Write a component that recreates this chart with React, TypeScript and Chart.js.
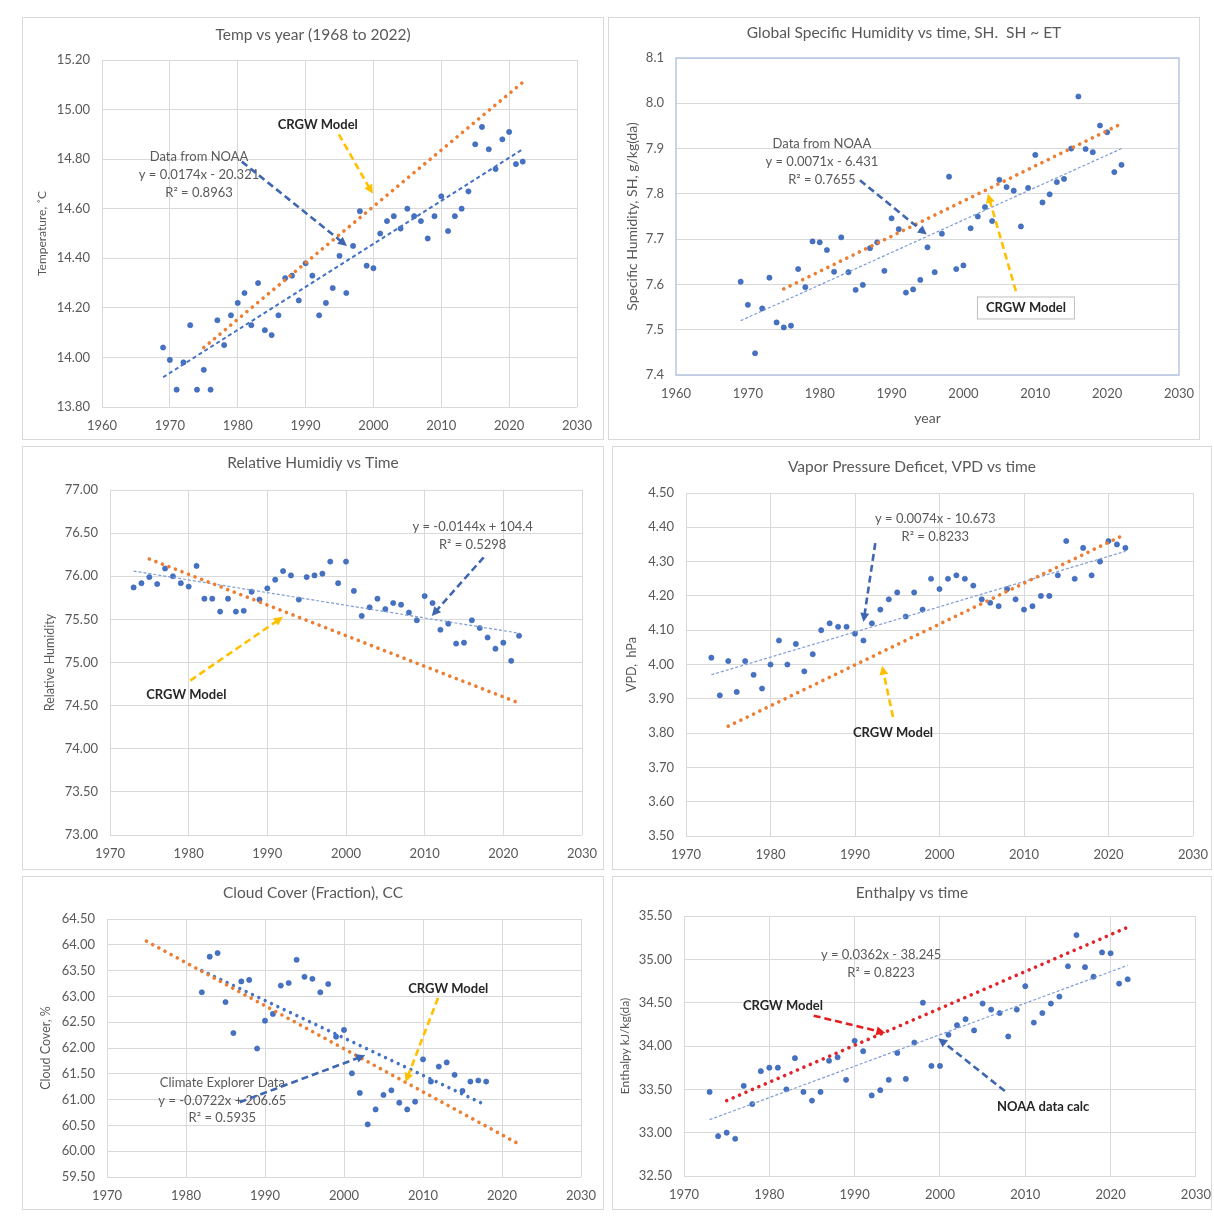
import React, { useEffect, useRef } from 'react';
import { Chart, registerables } from 'chart.js';
Chart.register(...registerables);

const FONT = 'Lato, "Open Sans", sans-serif';
const TICK = '#595959';

// ---------------- data ----------------
const yearsA = [1969, 1970, 1971, 1972, 1973, 1974, 1975, 1976, 1977, 1978, 1979, 1980, 1981, 1982, 1983, 1984, 1985, 1986, 1987, 1988, 1989, 1990, 1991, 1992, 1993, 1994, 1995, 1996, 1997, 1998, 1999, 2000, 2001, 2002, 2003, 2004, 2005, 2006, 2007, 2008, 2009, 2010, 2011, 2012, 2013, 2014, 2015, 2016, 2017, 2018, 2019, 2020, 2021, 2022];
const yearsB = [1973, 1974, 1975, 1976, 1977, 1978, 1979, 1980, 1981, 1982, 1983, 1984, 1985, 1986, 1987, 1988, 1989, 1990, 1991, 1992, 1993, 1994, 1995, 1996, 1997, 1998, 1999, 2000, 2001, 2002, 2003, 2004, 2005, 2006, 2007, 2008, 2009, 2010, 2011, 2012, 2013, 2014, 2015, 2016, 2017, 2018, 2019, 2020, 2021, 2022];
const yearsC = [1982, 1983, 1984, 1985, 1986, 1987, 1988, 1989, 1990, 1991, 1992, 1993, 1994, 1995, 1996, 1997, 1998, 1999, 2000, 2001, 2002, 2003, 2004, 2005, 2006, 2007, 2008, 2009, 2010, 2011, 2012, 2013, 2014, 2015, 2016, 2017, 2018];

const tempC = [14.04, 13.99, 13.87, 13.98, 14.13, 13.87, 13.95, 13.87, 14.15, 14.05, 14.17, 14.22, 14.26, 14.13, 14.30, 14.11, 14.09, 14.17, 14.32, 14.33, 14.23, 14.38, 14.33, 14.17, 14.22, 14.28, 14.41, 14.26, 14.45, 14.59, 14.37, 14.36, 14.50, 14.55, 14.57, 14.52, 14.60, 14.57, 14.55, 14.48, 14.57, 14.65, 14.51, 14.57, 14.60, 14.67, 14.86, 14.93, 14.84, 14.76, 14.88, 14.91, 14.78, 14.79];
const specHum = [7.606, 7.555, 7.448, 7.547, 7.615, 7.516, 7.505, 7.509, 7.634, 7.594, 7.695, 7.693, 7.676, 7.628, 7.704, 7.627, 7.588, 7.599, 7.68, 7.693, 7.630, 7.746, 7.722, 7.582, 7.589, 7.610, 7.682, 7.627, 7.712, 7.838, 7.634, 7.642, 7.724, 7.750, 7.771, 7.740, 7.831, 7.815, 7.807, 7.728, 7.813, 7.886, 7.781, 7.799, 7.826, 7.833, 7.90, 8.015, 7.899, 7.892, 7.951, 7.936, 7.848, 7.864];
const relHum = [75.87, 75.92, 75.99, 75.91, 76.09, 76.00, 75.92, 75.88, 76.12, 75.74, 75.74, 75.59, 75.74, 75.59, 75.60, 75.82, 75.73, 75.86, 75.96, 76.06, 76.01, 75.73, 75.99, 76.01, 76.03, 76.17, 75.92, 76.17, 75.83, 75.54, 75.64, 75.74, 75.62, 75.69, 75.67, 75.58, 75.49, 75.77, 75.69, 75.38, 75.45, 75.22, 75.23, 75.49, 75.40, 75.29, 75.16, 75.23, 75.02, 75.31];
const vpd = [4.02, 3.91, 4.01, 3.92, 4.01, 3.97, 3.93, 4.00, 4.07, 4.00, 4.06, 3.98, 4.03, 4.10, 4.12, 4.11, 4.11, 4.09, 4.07, 4.12, 4.16, 4.19, 4.21, 4.14, 4.21, 4.16, 4.25, 4.22, 4.25, 4.26, 4.25, 4.23, 4.19, 4.18, 4.17, 4.22, 4.19, 4.16, 4.17, 4.20, 4.20, 4.26, 4.36, 4.25, 4.34, 4.26, 4.30, 4.36, 4.35, 4.34];
const cloud = [63.08, 63.77, 63.84, 62.89, 62.29, 63.29, 63.32, 61.99, 62.53, 62.66, 63.21, 63.26, 63.71, 63.38, 63.34, 63.08, 63.24, 62.22, 62.35, 61.51, 61.13, 60.52, 60.81, 61.09, 61.18, 60.94, 60.81, 60.96, 61.78, 61.35, 61.64, 61.72, 61.48, 61.17, 61.35, 61.37, 61.35];
const enthalpy = [33.47, 32.96, 33.00, 32.93, 33.54, 33.33, 33.71, 33.75, 33.75, 33.50, 33.86, 33.47, 33.37, 33.47, 33.83, 33.87, 33.61, 34.06, 33.94, 33.43, 33.49, 33.61, 33.92, 33.62, 34.04, 34.50, 33.77, 33.77, 34.13, 34.24, 34.31, 34.18, 34.49, 34.42, 34.38, 34.11, 34.42, 34.69, 34.27, 34.38, 34.49, 34.57, 34.92, 35.28, 34.91, 34.80, 35.08, 35.07, 34.72, 34.77];

// trend line end points (years, values)
const tempFitX = [1969, 2022]; const tempFitY = [13.92, 14.84];
const tempModelX = [1975, 2022]; const tempModelY = [14.04, 15.11];
const shFitX = [1969, 2022]; const shFitY = [7.52, 7.90];
const shModelX = [1975, 2022]; const shModelY = [7.59, 7.955];
const rhFitX = [1973, 2022]; const rhFitY = [76.06, 75.34];
const rhModelX = [1975, 2022]; const rhModelY = [76.20, 74.53];
const vpdFitX = [1973, 2022]; const vpdFitY = [3.97, 4.33];
const vpdModelX = [1975, 2022]; const vpdModelY = [3.82, 4.38];
const ccFitX = [1982, 2018]; const ccFitY = [63.50, 60.89];
const ccModelX = [1975, 2022]; const ccModelY = [64.07, 60.15];
const enFitX = [1973, 2022]; const enFitY = [33.15, 34.93];
const enModelX = [1975, 2022]; const enModelY = [33.37, 35.37];

const zip = (xs: number[], ys: number[]) => xs.map((x, i) => ({ x, y: ys[i] }));

// ---------------- types ----------------
type Ann =
  | { kind: 'text'; x: number; y: number; lines: string[]; bold?: boolean; lh?: number }
  | { kind: 'arrow'; x1: number; y1: number; x2: number; y2: number; color: string }
  | { kind: 'box'; x: number; y: number; text: string; w: number; h: number };

interface LineStyle { color: string; width: number; dash: number[]; round?: boolean }

interface PanelCfg {
  box: [number, number, number, number];
  plot: [number, number, number, number];
  title: string;
  titleY: number;
  yTitle: string;
  yTitleX: number;
  yTitleSize: number;
  xTitle?: string;
  xMin: number; xMax: number;
  yMin: number; yMax: number; yStep: number; yDec: number;
  gridX: boolean;
  plotBorder?: boolean;
  points: { x: number; y: number }[];
  fit: { x: number; y: number }[];
  model: { x: number; y: number }[];
  fitStyle: LineStyle;
  modelStyle: LineStyle;
  anns: Ann[];
}

const ORANGE: LineStyle = { color: '#ED7D31', width: 3.6, dash: [0.01, 7], round: true };
const THIN: LineStyle = { color: '#7d9cd6', width: 1.2, dash: [3, 2] };

const panels: PanelCfg[] = [
  {
    box: [22, 17, 604, 440], plot: [102, 60, 577, 407],
    title: 'Temp vs year (1968 to 2022)', titleY: 17,
    yTitle: 'Temperature, \u02daC', yTitleX: 19, yTitleSize: 12,
    xMin: 1960, xMax: 2030, yMin: 13.8, yMax: 15.2, yStep: 0.2, yDec: 2, gridX: true,
    points: zip(yearsA, tempC), fit: zip(tempFitX, tempFitY), model: zip(tempModelX, tempModelY),
    fitStyle: { color: '#4472C4', width: 2, dash: [4, 3] }, modelStyle: ORANGE,
    anns: [
      { kind: 'text', x: 1974.3, y: 14.81, lines: ['Data from NOAA', 'y = 0.0174x - 20.321', 'R\u00b2 = 0.8963'], lh: 18 },
      { kind: 'text', x: 1991.8, y: 14.94, lines: ['CRGW Model'], bold: true },
      { kind: 'arrow', x1: 1994.9, y1: 14.90, x2: 1999.9, y2: 14.66, color: '#FFC000' },
      { kind: 'arrow', x1: 1980.6, y1: 14.79, x2: 1996.1, y2: 14.45, color: '#3F66B0' },
    ],
  },
  {
    box: [608, 17, 1200, 440], plot: [676, 58, 1179, 375],
    title: 'Global Specific Humidity vs time, SH.  SH ~ ET', titleY: 15,
    yTitle: 'Specific Humidity, SH, g/kg(da)', yTitleX: 23, yTitleSize: 14, xTitle: 'year',
    xMin: 1960, xMax: 2030, yMin: 7.4, yMax: 8.1, yStep: 0.1, yDec: 1, gridX: false, plotBorder: true,
    points: zip(yearsA, specHum), fit: zip(shFitX, shFitY), model: zip(shModelX, shModelY),
    fitStyle: THIN, modelStyle: ORANGE,
    anns: [
      { kind: 'text', x: 1980.3, y: 7.91, lines: ['Data from NOAA', 'y = 0.0071x - 6.431', 'R\u00b2 = 0.7655'], lh: 18 },
      { kind: 'arrow', x1: 1985.6, y1: 7.83, x2: 1994.9, y2: 7.71, color: '#3F66B0' },
      { kind: 'box', x: 2008.7, y: 7.548, text: 'CRGW Model', w: 98, h: 23 },
      { kind: 'arrow', x1: 2007.3, y1: 7.585, x2: 2003.4, y2: 7.80, color: '#FFC000' },
    ],
  },
  {
    box: [22, 446, 604, 870], plot: [110, 490, 582, 835],
    title: 'Relative Humidiy vs Time', titleY: 16,
    yTitle: 'Relative Humidity', yTitleX: 27, yTitleSize: 12.5,
    xMin: 1970, xMax: 2030, yMin: 73, yMax: 77, yStep: 0.5, yDec: 2, gridX: true,
    points: zip(yearsB, relHum), fit: zip(rhFitX, rhFitY), model: zip(rhModelX, rhModelY),
    fitStyle: THIN, modelStyle: ORANGE,
    anns: [
      { kind: 'text', x: 2016.1, y: 76.57, lines: ['y = -0.0144x + 104.4', 'R\u00b2 = 0.5298'], lh: 18 },
      { kind: 'arrow', x1: 2017.5, y1: 76.22, x2: 2010.9, y2: 75.54, color: '#3F66B0' },
      { kind: 'arrow', x1: 1980.2, y1: 74.79, x2: 1992.0, y2: 75.53, color: '#FFC000' },
      { kind: 'text', x: 1979.7, y: 74.62, lines: ['CRGW Model'], bold: true },
    ],
  },
  {
    box: [612, 446, 1212, 870], plot: [686, 493, 1193, 836],
    title: 'Vapor Pressure Deficet, VPD vs time', titleY: 20,
    yTitle: 'VPD,  hPa', yTitleX: 19, yTitleSize: 12.5,
    xMin: 1970, xMax: 2030, yMin: 3.5, yMax: 4.5, yStep: 0.1, yDec: 2, gridX: true,
    points: zip(yearsB, vpd), fit: zip(vpdFitX, vpdFitY), model: zip(vpdModelX, vpdModelY),
    fitStyle: THIN, modelStyle: ORANGE,
    anns: [
      { kind: 'text', x: 1999.5, y: 4.424, lines: ['y = 0.0074x - 10.673', 'R\u00b2 = 0.8233'], lh: 18 },
      { kind: 'arrow', x1: 1992.4, y1: 4.354, x2: 1991.0, y2: 4.124, color: '#3F66B0' },
      { kind: 'arrow', x1: 1994.5, y1: 3.847, x2: 1993.2, y2: 3.996, color: '#FFC000' },
      { kind: 'text', x: 1994.5, y: 3.80, lines: ['CRGW Model'], bold: true },
    ],
  },
  {
    box: [22, 876, 604, 1210], plot: [107, 919, 581, 1177],
    title: 'Cloud Cover (Fraction), CC', titleY: 16,
    yTitle: 'Cloud Cover, %', yTitleX: 23, yTitleSize: 12.5,
    xMin: 1970, xMax: 2030, yMin: 59.5, yMax: 64.5, yStep: 0.5, yDec: 2, gridX: true,
    points: zip(yearsC, cloud), fit: zip(ccFitX, ccFitY), model: zip(ccModelX, ccModelY),
    fitStyle: { color: '#4472C4', width: 3.4, dash: [0.01, 7], round: true }, modelStyle: ORANGE,
    anns: [
      { kind: 'text', x: 1984.6, y: 61.32, lines: ['Climate Explorer Data', 'y = -0.0722x + 206.65', 'R\u00b2 = 0.5935'], lh: 17.5 },
      { kind: 'arrow', x1: 1986.8, y1: 60.95, x2: 2002.7, y2: 61.86, color: '#3F66B0' },
      { kind: 'arrow', x1: 2011.9, y1: 62.97, x2: 2007.8, y2: 61.34, color: '#FFC000' },
      { kind: 'text', x: 2013.2, y: 63.14, lines: ['CRGW Model'], bold: true },
    ],
  },
  {
    box: [612, 876, 1212, 1210], plot: [684, 916, 1196, 1176],
    title: 'Enthalpy vs time', titleY: 16,
    yTitle: 'Enthalpy kJ/kg(da)', yTitleX: 12, yTitleSize: 12,
    xMin: 1970, xMax: 2030, yMin: 32.5, yMax: 35.5, yStep: 0.5, yDec: 2, gridX: true,
    points: zip(yearsB, enthalpy), fit: zip(enFitX, enFitY), model: zip(enModelX, enModelY),
    fitStyle: THIN, modelStyle: { color: '#E0242A', width: 3.6, dash: [0.01, 7], round: true },
    anns: [
      { kind: 'text', x: 1993.1, y: 35.05, lines: ['y = 0.0362x - 38.245', 'R\u00b2 = 0.8223'], lh: 18 },
      { kind: 'text', x: 1981.6, y: 34.46, lines: ['CRGW Model'], bold: true },
      { kind: 'arrow', x1: 1985.2, y1: 34.35, x2: 1993.6, y2: 34.15, color: '#E41E1E' },
      { kind: 'arrow', x1: 2007.6, y1: 33.48, x2: 1999.8, y2: 34.09, color: '#3F66B0' },
      { kind: 'text', x: 2012.1, y: 33.30, lines: ['NOAA data calc'], bold: true },
    ],
  },
];

function drawArrow(ctx: CanvasRenderingContext2D, x1: number, y1: number, x2: number, y2: number, color: string) {
  const ang = Math.atan2(y2 - y1, x2 - x1);
  const head = 9;
  const ex = x2 - Math.cos(ang) * head * 0.8;
  const ey = y2 - Math.sin(ang) * head * 0.8;
  ctx.save();
  ctx.strokeStyle = color;
  ctx.lineWidth = 2.6;
  ctx.setLineDash([7, 4]);
  ctx.beginPath();
  ctx.moveTo(x1, y1);
  ctx.lineTo(ex, ey);
  ctx.stroke();
  ctx.setLineDash([]);
  ctx.fillStyle = color;
  ctx.beginPath();
  ctx.moveTo(x2, y2);
  ctx.lineTo(x2 - Math.cos(ang) * head + Math.sin(ang) * 4.5, y2 - Math.sin(ang) * head - Math.cos(ang) * 4.5);
  ctx.lineTo(x2 - Math.cos(ang) * head - Math.sin(ang) * 4.5, y2 - Math.sin(ang) * head + Math.cos(ang) * 4.5);
  ctx.closePath();
  ctx.fill();
  ctx.restore();
}

function Panel({ cfg }: { cfg: PanelCfg }) {
  const ref = useRef<HTMLCanvasElement>(null);
  const [bl, bt, br, bb] = cfg.box;
  const cw = br - bl - 2;
  const ch = bb - bt - 2;

  useEffect(() => {
    const canvas = ref.current;
    if (!canvas) return;
    const pl = cfg.plot[0] - bl - 1;
    const pt = cfg.plot[1] - bt - 1;
    const pr = cfg.plot[2] - bl - 1;
    const pb = cfg.plot[3] - bt - 1;

    const plugin = {
      id: 'panelDecor',
      beforeDatasetsDraw(chart: any) {
        if (!cfg.plotBorder) return;
        const { ctx, chartArea: a } = chart;
        ctx.save();
        ctx.strokeStyle = '#b7c6e4';
        ctx.lineWidth = 1.5;
        ctx.strokeRect(a.left, a.top, a.right - a.left, a.bottom - a.top);
        ctx.restore();
      },
      afterDraw(chart: any) {
        const { ctx, chartArea: a } = chart;
        const xs = chart.scales.x;
        const ys = chart.scales.y;
        ctx.save();
        ctx.fillStyle = '#595959';
        ctx.font = `15.5px ${FONT}`;
        ctx.textAlign = 'center';
        ctx.textBaseline = 'middle';
        ctx.fillText(cfg.title, chart.width / 2, cfg.titleY);
        ctx.save();
        ctx.translate(cfg.yTitleX, (a.top + a.bottom) / 2);
        ctx.rotate(-Math.PI / 2);
        ctx.font = `${cfg.yTitleSize}px ${FONT}`;
        ctx.fillText(cfg.yTitle, 0, 0);
        ctx.restore();
        if (cfg.xTitle) {
          ctx.font = `14px ${FONT}`;
          ctx.fillText(cfg.xTitle, (a.left + a.right) / 2, a.bottom + 43);
        }
        for (const an of cfg.anns) {
          if (an.kind === 'text') {
            const px = xs.getPixelForValue(an.x);
            const py = ys.getPixelForValue(an.y);
            ctx.font = an.bold ? `bold 13px ${FONT}` : `13px ${FONT}`;
            ctx.fillStyle = an.bold ? '#262626' : '#595959';
            an.lines.forEach((ln, i) => ctx.fillText(ln, px, py + i * (an.lh || 18)));
          } else if (an.kind === 'arrow') {
            drawArrow(ctx, xs.getPixelForValue(an.x1), ys.getPixelForValue(an.y1), xs.getPixelForValue(an.x2), ys.getPixelForValue(an.y2), an.color);
          } else if (an.kind === 'box') {
            const px = xs.getPixelForValue(an.x);
            const py = ys.getPixelForValue(an.y);
            ctx.fillStyle = '#ffffff';
            ctx.fillRect(px - an.w / 2, py - an.h / 2, an.w, an.h);
            ctx.strokeStyle = '#bfbfbf';
            ctx.lineWidth = 1;
            ctx.strokeRect(px - an.w / 2 + 0.5, py - an.h / 2 + 0.5, an.w - 1, an.h - 1);
            ctx.font = `bold 13px ${FONT}`;
            ctx.fillStyle = '#262626';
            ctx.fillText(an.text, px, py);
          }
        }
        ctx.restore();
      },
    };

    const lineDs = (data: any[], s: LineStyle) => ({
      data,
      showLine: true,
      borderColor: s.color,
      borderWidth: s.width,
      borderDash: s.dash,
      borderCapStyle: s.round ? 'round' : 'butt',
      pointRadius: 0,
      pointHoverRadius: 0,
      fill: false,
    });

    const chart = new Chart(canvas, {
      type: 'scatter',
      data: {
        datasets: [
          lineDs(cfg.model, cfg.modelStyle) as any,
          lineDs(cfg.fit, cfg.fitStyle) as any,
          {
            data: cfg.points,
            pointRadius: 2.6,
            pointBackgroundColor: '#4472C4',
            pointBorderColor: '#3a62ad',
            pointBorderWidth: 0.6,
          },
        ],
      },
      options: {
        responsive: false,
        animation: false,
        layout: { padding: { left: 0, top: pt, right: cw - pr, bottom: 0 } },
        plugins: { legend: { display: false }, tooltip: { enabled: false } },
        scales: {
          x: {
            type: 'linear',
            min: cfg.xMin,
            max: cfg.xMax,
            afterFit: (s: any) => { s.height = ch - pb; },
            ticks: {
              stepSize: 10,
              autoSkip: false,
              maxRotation: 0,
              padding: 0,
              color: TICK,
              font: { family: FONT, size: 13 },
              callback: (v: any) => String(v),
            },
            grid: { display: cfg.gridX, color: '#d9d9d9', lineWidth: 1, drawTicks: true, tickLength: 11, tickColor: 'rgba(0,0,0,0)' },
            border: { display: false },
          },
          y: {
            type: 'linear',
            min: cfg.yMin,
            max: cfg.yMax,
            afterFit: (s: any) => { s.width = pl; },
            ticks: {
              stepSize: cfg.yStep,
              autoSkip: false,
              padding: 12,
              color: TICK,
              font: { family: FONT, size: 13 },
              callback: (v: any) => Number(v).toFixed(cfg.yDec),
            },
            grid: { color: '#d9d9d9', lineWidth: 1, drawTicks: false },
            border: { display: false },
          },
        },
      } as any,
      plugins: [plugin as any],
    });
    return () => chart.destroy();
  }, [cfg]);

  return (
    <div
      style={{
        position: 'absolute',
        left: bl,
        top: bt,
        width: br - bl,
        height: bb - bt,
        border: '1px solid #d9d9d9',
        boxSizing: 'border-box',
        background: '#ffffff',
      }}
    >
      <canvas ref={ref} width={cw} height={ch} style={{ display: 'block', width: cw, height: ch }} />
    </div>
  );
}

export default function App() {
  return (
    <div style={{ position: 'absolute', left: 0, top: 0, width: 1214, height: 1216, background: '#ffffff', overflow: 'hidden' }}>
      {panels.map((p, i) => (
        <Panel key={i} cfg={p} />
      ))}
    </div>
  );
}
